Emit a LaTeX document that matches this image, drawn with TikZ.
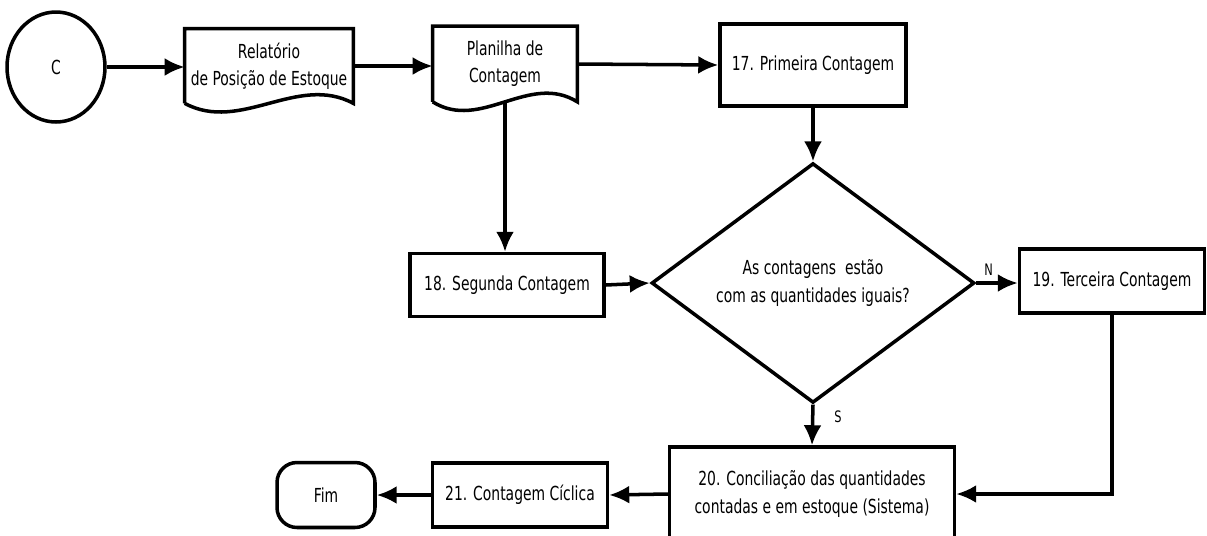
\documentclass[tikz,border=0pt]{standalone}
\usepackage{fontspec}
\setmainfont{DejaVu Sans}[FakeStretch=0.72]
\usepackage{tikz}
\usetikzlibrary{shapes.geometric,arrows.meta}
\tikzstyle{processo} = [rectangle, draw=black, line width=2pt, align=center, inner sep=2pt]
\tikzstyle{documento} = [rectangle, draw=none, align=center, inner sep=2pt]
\tikzstyle{decisao} = [diamond, draw=black, line width=2pt, align=center, inner sep=0pt, minimum width=6.46cm, minimum height=4.6cm]
\tikzstyle{seta} = [line width=2pt, -{Latex[length=0.4cm,width=0.36cm]}]

\begin{document}
\begin{tikzpicture}[x=0.02cm, y=-0.02cm, font=\fontsize{11}{15.4}\selectfont]
        \clip (0,0) rectangle (1207,535);

        \node (C) [ellipse, draw=black, line width=2pt, minimum width=1.96cm, minimum height=2.2cm] at (56,67) {C};

        \node (D1) [documento, minimum width=3.36cm, minimum height=1.48cm] at (269,66) {Relatório\\de Posição de Estoque};
        \draw[line width=2pt] (D1.south west) -- (D1.north west) -- (D1.north east) -- (D1.south east)
            .. controls +(-56,-30) and +(56,30) .. (D1.south west);

        \node (D2) [documento, minimum width=2.88cm, minimum height=1.5cm] at (505,64) {Planilha de\\Contagem};
        \draw[line width=2pt] (D2.south west) -- (D2.north west) -- (D2.north east) -- (D2.south east)
            .. controls +(-48,-30) and +(48,30) .. (D2.south west);

        \node (P17) [processo, minimum width=3.72cm, minimum height=1.64cm] at (813,65) {17. Primeira Contagem};
        \node (Q) [decisao] at (813,283) {As contagens\ \ estão\\com as quantidades iguais?};
        \node (P18) [processo, minimum width=3.88cm, minimum height=1.26cm] at (507,285) {18. Segunda Contagem};
        \node (P19) [processo, minimum width=3.7cm, minimum height=1.28cm] at (1112,281) {19. Terceira Contagem};
        \node (P20) [processo, minimum width=5.7cm, minimum height=1.88cm] at (812,494) {20. Conciliação das quantidades\\contadas e em estoque (Sistema)};
        \node (P21) [processo, minimum width=3.5cm, minimum height=1.28cm] at (520,495) {21. Contagem Cíclica};
        \node (F) [rectangle, rounded corners=0.4cm, draw=black, line width=2pt, minimum width=1.96cm, minimum height=1.3cm] at (326,495) {Fim};

        \draw[seta] (C.east) -- (D1.west |- C.east);
        \draw[seta] (D1.east) -- (D2.west |- D1.east);
        \draw[seta] (D2.east) -- (P17.west);
        \draw[seta] (D2.south) -- (D2.south |- P18.north);
        \draw[seta] (P17.south) -- (Q.north);
        \draw[seta] (P18.east) -- (Q.west);
        \draw[seta] (Q.east) -- node[above, pos=0.3, font=\small] {N} (Q.east -| P19.west);
        \draw[seta] (Q.south) -- node[right, pos=0.3, xshift=8pt, font=\small] {S} (P20.north);
        \draw[seta] (P19.south) |- (P20.east);
        \draw[seta] (P20.west) -- (P21.east);
        \draw[seta] (P21.west) -- (F.east);

    \end{tikzpicture}
\end{document}
